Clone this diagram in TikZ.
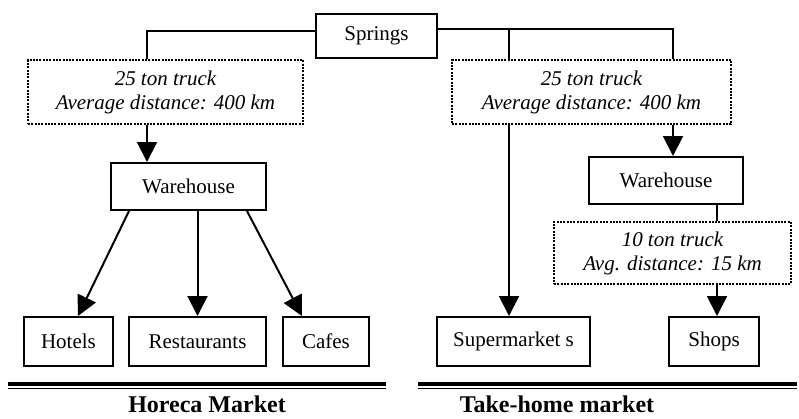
\documentclass[tikz,border=0pt]{standalone}
\usepackage{fontspec}
\setmainfont{Liberation Serif}
\usetikzlibrary{arrows.meta}
\begin{document}
\begin{tikzpicture}[x=1pt,y=-1pt,
  box/.style={draw,line width=2pt,inner sep=0pt,minimum height=49pt,font=\fontsize{21}{24}\selectfont},
  dotbox/.style={draw,line width=2.2pt,dash pattern=on 2pt off 1.3pt,inner sep=0pt,align=center,font=\fontsize{21}{24}\selectfont\itshape},
  conn/.style={line width=2pt},
  arr/.style={line width=2pt,-{Triangle[length=20pt,width=20pt]}},
  title/.style={font=\fontsize{24}{28}\selectfont\bfseries,anchor=base,inner sep=0pt}]
\useasboundingbox (0,0) rectangle (799,418);
% nodes
\node[box,minimum width=121pt,minimum height=44pt] (springs) at (376.5,35.5) {Springs};
\node[dotbox,minimum width=275pt,minimum height=64pt] (ldot) at (165.5,92) {25 ton truck\\Average distance: 400 km};
\node[dotbox,minimum width=279pt,minimum height=64pt] (rdot) at (591.5,92) {25 ton truck\\Average distance: 400 km};
\node[box,minimum width=155pt,minimum height=47pt] (wl) at (188.5,186.5) {Warehouse};
\node[box,minimum width=154pt,minimum height=47pt] (wr) at (666,180.5) {Warehouse};
\node[dotbox,minimum width=237pt,minimum height=62pt] (sdot) at (672.5,253) {10 ton truck\\Avg. distance: 15 km};
\node[box,minimum width=89pt] (hotels) at (68.5,341.5) {Hotels};
\node[box,minimum width=137pt] (rest) at (197.5,341.5) {Restaurants};
\node[box,minimum width=86pt] (cafes) at (326,341.5) {Cafes};
\node[box,minimum width=153pt] (super) at (513.5,341.5) {Supermarket s};
\node[box,minimum width=90pt] (shops) at (714,341.5) {Shops};
\node[title] (horeca) at (207,412) {Horeca Market};
\node[title] (take) at (557,412) {Take-home market};
% x positions
\coordinate (xl) at (147,31);
\coordinate (xm) at (509,28.5);
\coordinate (xr) at (673,28.5);
\coordinate (xs) at (717,0);
% connectors from springs
\draw[conn] (springs.west |- xl) -- (xl) -- (ldot.north -| xl);
\draw[conn] (springs.east |- xr) -- (xr) -- (rdot.north -| xr);
\draw[conn] (xm) -- (rdot.north -| xm);
% arrows
\draw[arr] (ldot.south -| xl) -- (wl.north -| xl);
\draw[arr] (rdot.south -| xm) -- (super.north -| xm);
\draw[arr] (rdot.south -| xr) -- (wr.north -| xr);
\draw[conn] (wr.south -| xs) -- (sdot.north -| xs);
\draw[arr] (sdot.south -| xs) -- (shops.north -| xs);
\draw[arr] ([xshift=-59.5pt]wl.south) -- ([xshift=9.5pt]hotels.north);
\draw[arr] (wl.south -| rest.north) -- (rest.north);
\draw[arr] ([xshift=58.5pt]wl.south) -- ([xshift=-24pt]cafes.north);
% market rules
\draw[line width=3.5pt] (8,384) -- (386,384);
\draw[line width=1.5pt] (8,388.5) -- (386,388.5);
\draw[line width=3.5pt] (418,384) -- (797,384);
\draw[line width=1.5pt] (418,388.5) -- (797,388.5);
\end{tikzpicture}
\end{document}
